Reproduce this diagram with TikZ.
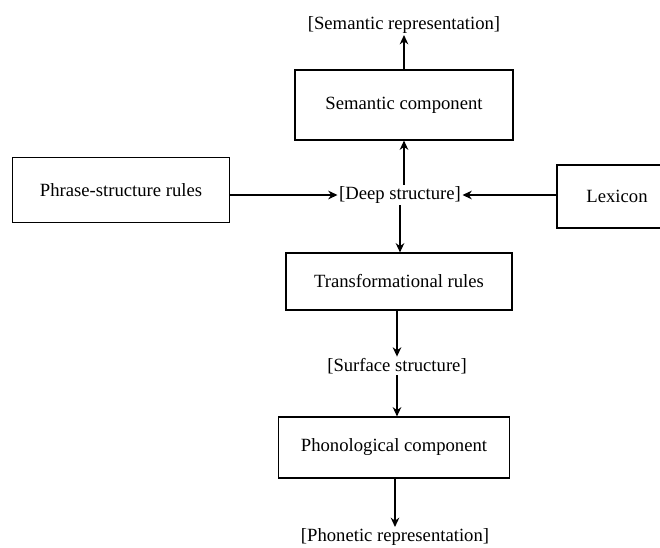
\documentclass[tikz,border=0pt]{standalone}
\usepackage{fontspec}
\setmainfont{Liberation Serif}
\usetikzlibrary{arrows.meta}
\begin{document}
\begin{tikzpicture}[x=0.75pt,y=-0.75pt]
    \tikzstyle{box} = [rectangle, draw=black, line width=0.9pt, inner sep=2pt, font=\fontsize{14}{16}\selectfont];
    \tikzstyle{level} = [inner sep=1pt, font=\fontsize{14}{16}\selectfont];
    \tikzstyle{marrow} = [black, line width=0.9pt, -{Stealth[length=7pt,width=6.5pt]}];

    \useasboundingbox (0,0) rectangle (660,547);

    \node[level] (semrep) at (404,25) {[Semantic representation]};
    \node[box, minimum width=163.5pt, minimum height=52.5pt] (sem) at (404,105) {Semantic component};
    \node[box, minimum width=162.75pt, minimum height=48.75pt] (phrase) at (121,190) {Phrase-structure rules};
    \node[level] (deep) at (400,195) {[Deep structure]};
    \node[box, minimum width=90pt, minimum height=47.25pt] (lex) at (617,196.5) {Lexicon};
    \node[box, minimum width=169.5pt, minimum height=42.75pt] (trans) at (399,281.5) {Transformational rules};
    \node[level] (surface) at (397,366) {[Surface structure]};
    \node[box, minimum width=173.25pt, minimum height=45.75pt] (phono) at (394,447.5) {Phonological component};
    \node[level] (phonetic) at (395,537) {[Phonetic representation]};

    \draw[marrow] (sem.north -| semrep.south) -- (semrep.south);
    \draw[marrow] (deep.north -| semrep.south) -- (sem.south -| semrep.south);
    \draw[marrow] (phrase.east |- deep.west) -- (deep.west);
    \draw[marrow] (lex.west |- deep.east) -- (deep.east);
    \draw[marrow] (deep.south) -- (deep.south |- trans.north);
    \draw[marrow] (trans.south -| surface.north) -- (surface.north);
    \draw[marrow] (surface.south) -- (surface.south |- phono.north);
    \draw[marrow] (phono.south -| phonetic.north) -- (phonetic.north);
\end{tikzpicture}
\end{document}
